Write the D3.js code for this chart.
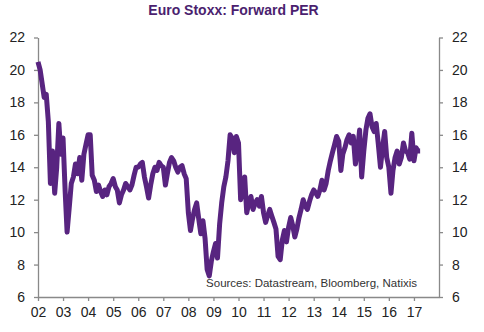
<!DOCTYPE html>
<html>
  <head>
    <meta charset="utf-8">
    <title>Euro Stoxx: Forward PER</title>
    <script src="https://cdn.jsdelivr.net/npm/d3@7"></script>
    <style>
      body { margin: 0; background: #fff; font-family: Arial, "Liberation Sans", sans-serif; }
      #chart { display: block; }
      .axis path, .axis line { stroke: #898989; stroke-width: 1.3; }
      .axis text { font-size: 14px; fill: #222; font-family: Arial, "Liberation Sans", sans-serif; }
    </style>
  </head>

  <body>
    <svg id="chart" width="484" height="332"></svg>

    <script>
      // monthly forward PER, first value = Jan 2002
      startMonth = "2002-01";
      per2002 = [20.5, 20.0, 19.2, 18.3, 18.5, 16.8, 13.0, 15.0, 12.4, 14.0, 16.7, 14.8];
      per2003 = [15.8, 12.5, 10.0, 11.5, 13.0, 13.4, 14.2, 13.6, 14.6, 13.2, 14.8, 15.4];
      per2004 = [16.0, 16.0, 13.5, 13.2, 12.5, 12.9, 12.5, 12.2, 12.6, 12.3, 12.8, 13.0];
      per2005 = [13.3, 12.8, 12.6, 11.8, 12.3, 12.6, 13.0, 12.8, 12.6, 12.9, 13.5, 14.0];
      per2006 = [14.0, 14.2, 14.3, 13.4, 12.8, 12.1, 12.9, 13.6, 14.0, 13.8, 14.3, 14.1];
      per2007 = [14.0, 12.9, 13.6, 14.3, 14.6, 14.4, 14.0, 13.7, 14.0, 14.1, 13.6, 13.3];
      per2008 = [11.2, 10.1, 10.8, 11.4, 11.8, 10.8, 9.9, 10.7, 9.6, 7.7, 7.3, 8.2];
      per2009 = [8.8, 9.3, 8.4, 10.5, 11.8, 12.8, 13.4, 14.4, 16.0, 15.8, 14.9, 15.9];
      per2010 = [15.5, 12.0, 12.5, 13.4, 11.2, 11.8, 12.2, 11.4, 11.8, 12.0, 11.6, 12.2];
      per2011 = [11.2, 10.6, 11.0, 11.4, 11.0, 10.6, 10.2, 8.5, 8.3, 9.5, 10.1, 9.4];
      per2012 = [10.3, 10.9, 10.4, 9.7, 10.2, 10.9, 11.4, 12.0, 11.6, 11.4, 11.9, 12.3];
      per2013 = [12.6, 12.4, 12.2, 12.6, 13.2, 12.6, 13.0, 13.8, 14.4, 14.9, 15.4, 15.9];
      per2014 = [15.6, 13.8, 14.8, 15.2, 15.7, 16.0, 15.5, 15.9, 14.2, 15.0, 16.3, 13.4];
      per2015 = [15.0, 16.3, 17.0, 17.3, 16.5, 16.2, 16.7, 15.4, 14.0, 15.2, 16.2, 14.6];
      per2016 = [14.0, 12.4, 13.8, 14.6, 15.0, 14.2, 14.6, 15.5, 15.0, 14.9, 14.5, 16.1];
      per2017 = [14.4, 15.2, 15.0, 15.0];

      yTicks = [6, 8, 10, 12, 14, 16, 18, 20, 22];
      yearTicks = d3.range(2002, 2018);

      perValues = [].concat(per2002, per2003, per2004, per2005, per2006, per2007, per2008,
        per2009, per2010, per2011, per2012, per2013, per2014, per2015, per2016, per2017);
      start = d3.timeParse("%Y-%m")(startMonth);
      lineData = perValues.map(function(v, i) {
        return { date: d3.timeMonth.offset(start, i), value: v };
      });

      margin = { top: 37.5, right: 45, bottom: 35, left: 38 };
      chartWidth = 484;
      chartHeight = 332;

      x = d3.scaleTime()
        .domain([new Date(2002, 0, 1), new Date(2018, 0, 1)])
        .range([margin.left, chartWidth - margin.right]);
      y = d3.scaleLinear()
        .domain([6, 22])
        .range([chartHeight - margin.bottom, margin.top]);

      chart = d3.select("#chart");

      // title
      chart.append("text")
        .attr("x", 233.5)
        .attr("y", 14.5)
        .attr("text-anchor", "middle")
        .style("font-size", "14px")
        .style("font-weight", "bold")
        .style("fill", "#4b1f6f")
        .text("Euro Stoxx: Forward PER");

      // axes
      xAxis = d3.axisBottom(x)
        .tickValues(yearTicks.map(function(yr) { return new Date(yr, 0, 1); }))
        .tickFormat(d3.timeFormat("%y"))
        .tickSizeInner(4)
        .tickSizeOuter(0)
        .tickPadding(6);
      chart.append("g")
        .attr("class", "axis")
        .attr("transform", "translate(0," + (chartHeight - margin.bottom) + ")")
        .call(xAxis);

      leftAxis = d3.axisLeft(y)
        .tickValues(yTicks)
        .tickSizeInner(4)
        .tickSizeOuter(0)
        .tickPadding(9);
      chart.append("g")
        .attr("class", "axis")
        .attr("transform", "translate(" + margin.left + ",0)")
        .call(leftAxis);

      rightAxis = d3.axisRight(y)
        .tickValues(yTicks)
        .tickSizeInner(4)
        .tickSizeOuter(0)
        .tickPadding(9);
      chart.append("g")
        .attr("class", "axis")
        .attr("transform", "translate(" + (chartWidth - margin.right) + ",0)")
        .call(rightAxis);

      // series
      line = d3.line()
        .x(function(d) { return x(d.date); })
        .y(function(d) { return y(d.value); });
      chart.append("path")
        .datum(lineData)
        .attr("d", line)
        .attr("fill", "none")
        .attr("stroke", "#582480")
        .attr("stroke-width", 5)
        .attr("stroke-linejoin", "round");

      // source note
      chart.append("text")
        .attr("x", 417)
        .attr("y", 286.5)
        .attr("text-anchor", "end")
        .style("font-size", "11.5px")
        .style("fill", "#333")
        .text("Sources: Datastream, Bloomberg, Natixis");
    </script>
  </body>
</html>
